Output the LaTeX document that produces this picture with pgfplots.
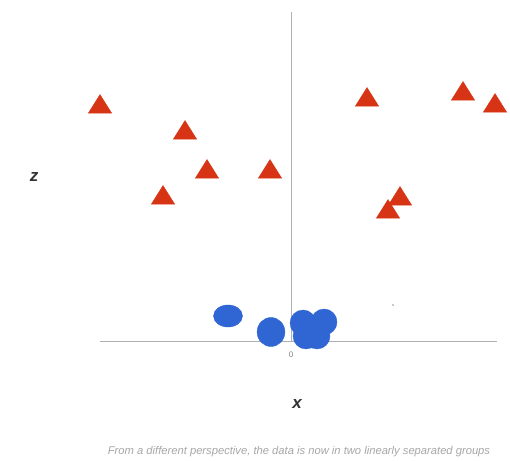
\documentclass[border=0pt]{standalone}
\usepackage{pgfplots}
\pgfplotsset{compat=1.18}
\usepackage{fontspec}
\newfontfamily\labelfont{Liberation Sans}
\definecolor{triRed}{RGB}{214,52,20}
\definecolor{dotBlue}{RGB}{48,102,212}
\definecolor{axisGray}{RGB}{175,175,175}
\begin{document}
\begin{tikzpicture}
\begin{axis}[
  width=510pt, height=459pt, scale only axis,
  xmin=-291, xmax=219, ymin=-117, ymax=342,
  hide axis, clip=false,
]
% keep the full canvas in the bounding box
\path (axis cs:-291,-117) rectangle (axis cs:219,342);

% axes through the origin
\addplot[axisGray, line width=1pt] coordinates {(-191,0) (206,0)};
\addplot[axisGray, line width=1pt] coordinates {(0,0) (0,330)};

% upper group: triangles
\addplot[only marks, mark=triangle*, mark size=13.5pt, color=triRed,
  mark options={yscale=0.92}] coordinates {
  (-191,235) (-106,209) (-84,170) (-128,144) (-21,170)
  (76,242) (172,248) (204,236) (109,143) (97,130)
};

% lower group: blue blobs
\addplot[only marks, mark=*, mark size=14.5pt, color=dotBlue,
  mark options={yscale=0.76}] coordinates {(-63,26)};
\addplot[only marks, mark=*, mark size=14.5pt, color=dotBlue,
  mark options={xscale=0.96}] coordinates {(-20,10)};
\addplot[only marks, mark=*, mark size=13pt, color=dotBlue] coordinates {
  (12,19) (33,20) (15,6) (26,6)
};

% stray speck
\addplot[only marks, mark=*, mark size=0.7pt, color=gray!70] coordinates {(102,37)};

\node[font=\labelfont\fontsize{8}{9}\selectfont, text=gray] at (axis cs:0,-13) {0};
\node[font=\labelfont\bfseries\itshape\fontsize{17}{19}\selectfont, text=black!80] at (axis cs:6,-62) {x};
\node[font=\labelfont\bfseries\itshape\fontsize{17}{19}\selectfont, text=black!80] at (axis cs:-257,165) {z};
\node[font=\labelfont\itshape\fontsize{11.2}{13}\selectfont, text=gray!70] at (axis cs:8,-110)
  {From a different perspective, the data is now in two linearly separated groups};
\end{axis}
\end{tikzpicture}
\end{document}
